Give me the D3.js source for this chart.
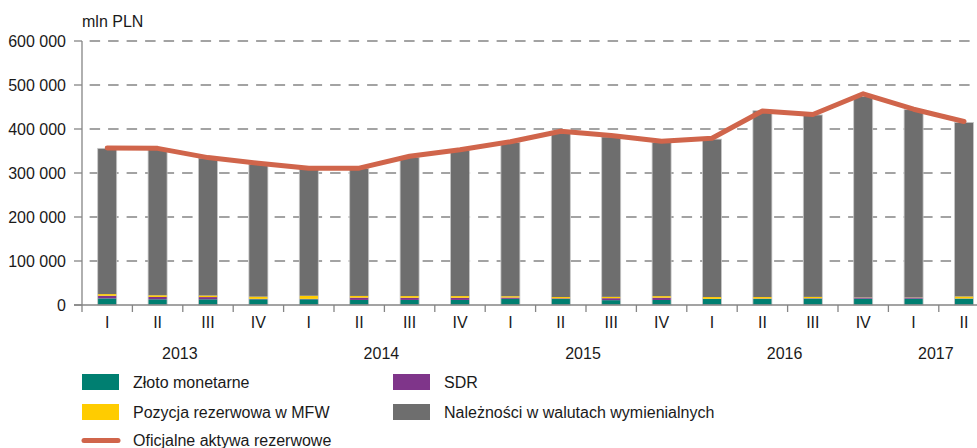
<!DOCTYPE html>
<html>
<head>
<meta charset="utf-8">
<script src="https://cdn.jsdelivr.net/npm/d3@7"></script>
<style>
  html, body { margin: 0; padding: 0; background: #fff; }
  svg { display: block; }
  text { font-family: "Liberation Sans", Arial, sans-serif; fill: #1a1a1a; }
</style>
</head>
<body>
<svg id="chart" width="977" height="448"></svg>
<script>
const quarters = ["I","II","III","IV","I","II","III","IV","I","II","III","IV","I","II","III","IV","I","II"];
const years = ["2013","2014","2015","2016","2017"];
const yTicks = [0, 100000, 200000, 300000, 400000, 500000, 600000];
const yTickLabels = ["0","100 000","200 000","300 000","400 000","500 000","600 000"];

// mln PLN
const zloto = [15000,13000,13000,13000,13000,11500,11500,11500,14000,13600,11000,11400,13600,13600,14400,14400,14400,14400];
const sdr   = [6000,5300,5000,1000,1000,5300,5000,5000,3000,1500,4500,5300,500,1000,1000,2500,2500,500];
const mfw   = [3800,3800,3500,5000,7000,3800,3800,3800,3000,3000,3000,3500,4000,3500,3000,500,500,4500];
const naleznosci = [331200,332900,312500,301000,289000,289400,315700,330700,349500,372900,363500,349300,358900,423400,413600,456600,426600,395600];
const oficjalne = [357000,356000,335000,322000,311000,311000,338000,353000,371000,395000,385000,372000,379000,441000,433000,480000,445000,417000];

const seriesNames = ["Złoto monetarne","SDR","Pozycja rezerwowa w MFW","Należności w walutach wymienialnych"];
const lineName = "Oficjalne aktywa rezerwowe";
const colors = {
  "Złoto monetarne": "#007F71",
  "SDR": "#7F358A",
  "Pozycja rezerwowa w MFW": "#FFCC00",
  "Należności w walutach wymienialnych": "#6E6E6E"
};
const lineColor = "#D0654B";

(function () {
const svg = d3.select("#chart");
const mLeft = 82, mTop = 41, mBottom = 305;
const step = 50.4;
const idx = d3.range(quarters.length);

const x = d3.scaleBand().domain(idx).range([mLeft, mLeft + step * quarters.length]).padding(0);
const y = d3.scaleLinear().domain([0, 600000]).range([mBottom, mTop]);
const barW = x.bandwidth() * 0.377;

const table = idx.map(i => ({
  i,
  "Złoto monetarne": zloto[i],
  "SDR": sdr[i],
  "Pozycja rezerwowa w MFW": mfw[i],
  "Należności w walutach wymienialnych": naleznosci[i]
}));
const stacked = d3.stack().keys(seriesNames)(table);

// gridlines
svg.append("g").selectAll("line").data(yTicks.filter(v => v > 0)).join("line")
  .attr("x1", mLeft).attr("x2", 977)
  .attr("y1", d => y(d)).attr("y2", d => y(d))
  .attr("stroke", "#858585").attr("stroke-width", 1.3)
  .attr("stroke-dasharray", "10.5,8").attr("stroke-dashoffset", 10.9);

// bars
svg.append("g").selectAll("g").data(stacked).join("g")
  .attr("fill", d => colors[d.key])
  .selectAll("rect").data(d => d).join("rect")
  .attr("x", d => x(d.data.i) + (x.bandwidth() - barW) / 2)
  .attr("width", barW)
  .attr("y", d => y(d[1]))
  .attr("height", d => Math.max(0, y(d[0]) - y(d[1])));

// bar outline (light edge)
const tot = i => zloto[i] + sdr[i] + mfw[i] + naleznosci[i];
svg.append("g").selectAll("rect").data(idx).join("rect")
  .attr("x", i => x(i) + (x.bandwidth() - barW) / 2)
  .attr("width", barW)
  .attr("y", i => y(tot(i)))
  .attr("height", i => y(0) - y(tot(i)))
  .attr("fill", "none").attr("stroke", "#c8c8c8").attr("stroke-width", 0.8);

// axes
const axisColor = "#858585";
svg.append("line").attr("x1", mLeft).attr("x2", mLeft).attr("y1", mTop).attr("y2", mBottom)
  .attr("stroke", axisColor).attr("stroke-width", 1.3);
svg.append("line").attr("x1", mLeft - 8).attr("x2", 977).attr("y1", mBottom).attr("y2", mBottom)
  .attr("stroke", axisColor).attr("stroke-width", 1.3);

// y ticks
svg.append("g").selectAll("line").data(yTicks).join("line")
  .attr("x1", mLeft - 8).attr("x2", mLeft)
  .attr("y1", d => y(d)).attr("y2", d => y(d))
  .attr("stroke", axisColor).attr("stroke-width", 1.3);
svg.append("g").selectAll("text").data(yTicks).join("text")
  .attr("x", 66).attr("y", d => y(d)).attr("dy", "0.35em")
  .attr("text-anchor", "end").attr("font-size", 16)
  .text((d, i) => yTickLabels[i]);

// x ticks at band boundaries
svg.append("g").selectAll("line").data(d3.range(quarters.length + 1)).join("line")
  .attr("x1", i => mLeft + i * x.step()).attr("x2", i => mLeft + i * x.step())
  .attr("y1", mBottom).attr("y2", mBottom + 7)
  .attr("stroke", axisColor).attr("stroke-width", 1.3);

svg.append("g").selectAll("text").data(idx).join("text")
  .attr("x", i => x(i) + x.bandwidth() / 2).attr("y", 328)
  .attr("text-anchor", "middle").attr("font-size", 16)
  .text(i => quarters[i]);

svg.append("g").selectAll("text").data(years).join("text")
  .attr("x", (d, k) => {
    const a = k * 4, b = Math.min(k * 4 + 3, quarters.length - 1);
    return (x(a) + x(b) + x.bandwidth()) / 2 - 3;
  })
  .attr("y", 359).attr("text-anchor", "middle").attr("font-size", 16)
  .text(d => d);

// unit label
svg.append("text").attr("x", 82).attr("y", 27).attr("font-size", 16).text("mln PLN");

// line
const line = d3.line().x(i => x(i) + x.bandwidth() / 2).y(i => y(oficjalne[i]));
svg.append("path").datum(idx).attr("d", line)
  .attr("fill", "none").attr("stroke", lineColor).attr("stroke-width", 5)
  .attr("stroke-linejoin", "round").attr("stroke-linecap", "round");

// legend
const legendItems = [
  { name: "Złoto monetarne", x: 82, y: 382 },
  { name: "SDR", x: 393, y: 382 },
  { name: "Pozycja rezerwowa w MFW", x: 82, y: 412 },
  { name: "Należności w walutach wymienialnych", x: 393, y: 412 }
];
const lg = svg.append("g");
legendItems.forEach(it => {
  lg.append("rect").attr("x", it.x).attr("y", it.y - 8).attr("width", 37).attr("height", 16)
    .attr("fill", colors[it.name]);
  lg.append("text").attr("x", it.x + 51).attr("y", it.y).attr("dy", "0.35em")
    .attr("font-size", 16).text(it.name);
});
lg.append("line").attr("x1", 84).attr("x2", 118).attr("y1", 440.5).attr("y2", 440.5)
  .attr("stroke", lineColor).attr("stroke-width", 5).attr("stroke-linecap", "round");
lg.append("text").attr("x", 133).attr("y", 440.5).attr("dy", "0.35em")
  .attr("font-size", 16).text(lineName);
})();
</script>
</body>
</html>
